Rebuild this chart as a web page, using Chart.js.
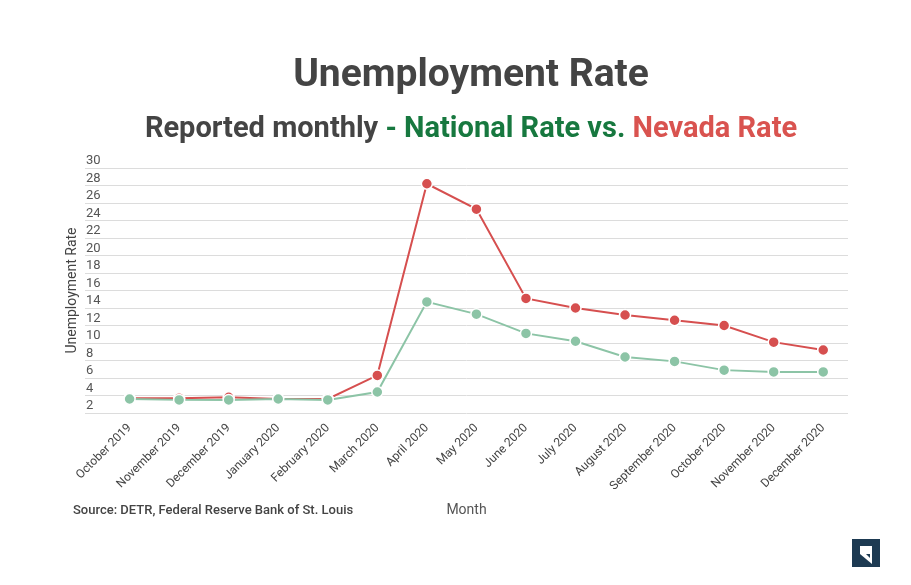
<!DOCTYPE html>
<html>
<head>
<meta charset="utf-8">
<script src="https://cdn.jsdelivr.net/npm/chart.js@4.4.1/dist/chart.umd.min.js"></script>
<style>
  html, body { margin: 0; padding: 0; background: #fff; }
  #wrap { position: relative; width: 911px; height: 585px; overflow: hidden; font-family: Roboto, "Noto Sans", sans-serif; }
  #c { position: absolute; left: 0; top: 0; }
  .title { position: absolute; left: 31px; right: 0; text-align: center; font-weight: 700; color: #444; white-space: nowrap; }
  #t1 { top: 50px; font-size: 39px; line-height: 46px; }
  #t2 { top: 110px; font-size: 29px; line-height: 34px; }
  #src { position: absolute; left: 73px; top: 502px; font-size: 13px; font-weight: 500; color: #444; white-space: nowrap; }
  #logo { position: absolute; left: 852px; top: 539px; width: 28px; height: 28px; background: #1d3a52; }
</style>
</head>
<body>
<div id="wrap">
  <canvas id="c" width="911" height="585"></canvas>
  <div class="title" id="t1">Unemployment Rate</div>
  <div class="title" id="t2">Reported monthly <span style="color:#17783f">- National Rate vs.</span> <span style="color:#d9534f">Nevada Rate</span></div>
  <div id="src">Source: DETR, Federal Reserve Bank of St. Louis</div>
  <div id="logo"><svg width="28" height="28" viewBox="0 0 28 28"><polygon points="8,7 20,7 20,25 8,15" fill="#fff"/><polygon points="14,15 18,15 18,19" fill="#1d3a52"/></svg></div>
</div>
<script>
const months = ["October 2019","November 2019","December 2019","January 2020","February 2020","March 2020","April 2020","May 2020","June 2020","July 2020","August 2020","September 2020","October 2020","November 2020","December 2020"];
const nationalRate = [3.6, 3.5, 3.5, 3.6, 3.5, 4.4, 14.7, 13.3, 11.1, 10.2, 8.4, 7.9, 6.9, 6.7, 6.7];
const nevadaRate = [3.7, 3.7, 3.8, 3.6, 3.6, 6.3, 28.2, 25.3, 15.1, 14.0, 13.2, 12.6, 12.0, 10.1, 9.2];
const yTicks = [2,4,6,8,10,12,14,16,18,20,22,24,26,28,30];

const toPoints = arr => arr.map((v, i) => ({ x: i, y: v }));
const nationalColor = "#8cc4a6";
const nevadaColor = "#d64f4f";

new Chart(document.getElementById("c"), {
  type: "line",
  data: {
    datasets: [
      { label: "National Rate", data: toPoints(nationalRate), borderColor: nationalColor, backgroundColor: nationalColor,
        pointBackgroundColor: nationalColor, pointBorderColor: "#fff", pointBorderWidth: 1.5, pointRadius: 5.5, borderWidth: 2, tension: 0 },
      { label: "Nevada Rate", data: toPoints(nevadaRate), borderColor: nevadaColor, backgroundColor: nevadaColor,
        pointBackgroundColor: nevadaColor, pointBorderColor: "#fff", pointBorderWidth: 1.5, pointRadius: 5.5, borderWidth: 2, tension: 0 }
    ]
  },
  options: {
    responsive: false,
    animation: false,
    layout: { padding: { left: 60, top: 168, right: 63, bottom: 62 } },
    plugins: { legend: { display: false }, tooltip: { enabled: false }, title: { display: false } },
    scales: {
      x: {
        type: "linear",
        min: -0.9, max: 14.5,
        afterBuildTicks: s => { s.ticks = months.map((_, i) => ({ value: i })); },
        afterFit: s => { s.height = 110; },
        grid: { display: false, drawTicks: false },
        border: { display: false },
        ticks: { autoSkip: false, minRotation: 45, maxRotation: 45, padding: 8, color: "#444",
                 font: { family: "Roboto", size: 12 }, callback: v => months[v] },
        title: { display: true, text: "Month", color: "#555", font: { family: "Roboto", size: 14 }, padding: { top: 4, bottom: 4 } }
      },
      y: {
        min: 2, max: 30,
        afterBuildTicks: s => { s.ticks = yTicks.map(v => ({ value: v })); },
        afterFit: s => { s.width = 25; },
        grid: { color: "#dcdcdc", lineWidth: 1, drawTicks: false },
        border: { display: false },
        ticks: { autoSkip: false, mirror: true, padding: 1, labelOffset: -7, color: "#555", font: { family: "Roboto", size: 13 } },
        title: { display: true, text: "Unemployment Rate", color: "#444", font: { family: "Roboto", size: 14 }, padding: { top: 4, bottom: 4 } }
      }
    }
  }
});
</script>
</body>
</html>
